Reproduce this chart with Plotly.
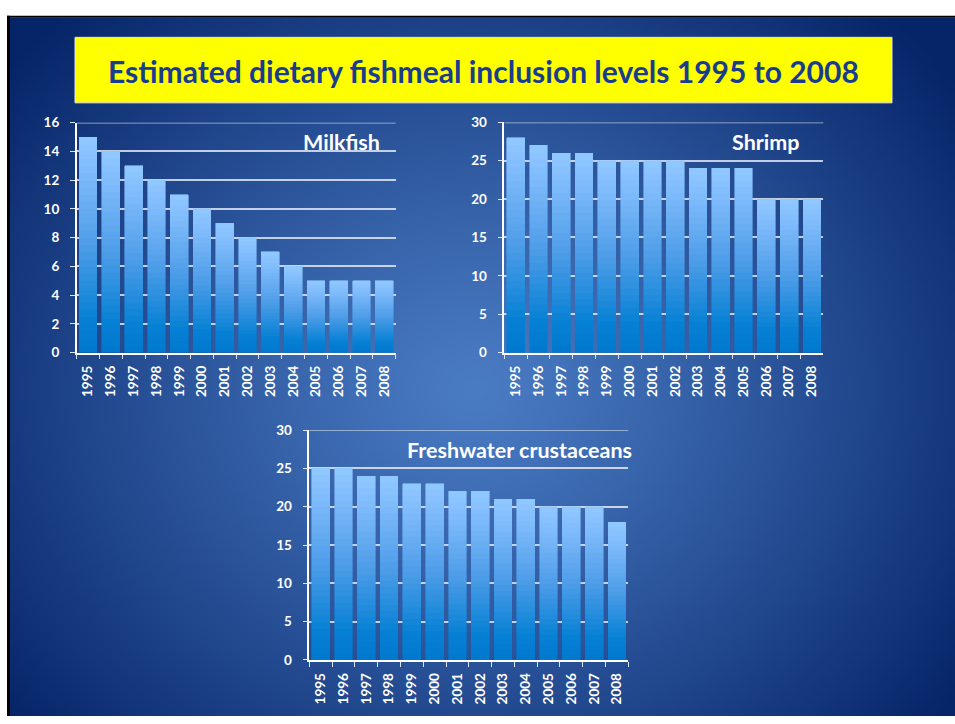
import base64
import struct
import zlib

import numpy as np
import plotly.graph_objects as go

# ---------------------------------------------------------------- data
years = ["1995", "1996", "1997", "1998", "1999", "2000", "2001",
         "2002", "2003", "2004", "2005", "2006", "2007", "2008"]
milkfish = [15, 14, 13, 12, 11, 10, 9, 8, 7, 6, 5, 5, 5, 5]
shrimp = [28, 27, 26, 26, 25, 25, 25, 25, 24, 24, 24, 20, 20, 20]
freshwater = [25, 25, 24, 24, 23, 23, 22, 22, 21, 21, 20, 20, 20, 18]

title_text = "Estimated dietary fishmeal inclusion levels 1995 to 2008"
panel_names = ["Milkfish", "Shrimp", "Freshwater crustaceans"]
panel_values = [milkfish, shrimp, freshwater]
panel_ymax = [16, 30, 30]
panel_dtick = [2, 5, 5]

# ---------------------------------------------------------------- geometry (pixels)
W, H = 955, 724


def fx(px):
    return px / W


def fy(py):
    return 1 - py / H


# plot-area boxes: (left, right, top, bottom)
panel_boxes = [(76.7, 395.7, 117.3, 352.3),
               (504.3, 823.3, 117.0, 352.3),
               (309.3, 628.3, 431.7, 666.7)]
# panel caption: right edge x, centre y
caption_pos = [(382, 137), (801, 137), (634, 452)]

FONT = "Lato"


# ---------------------------------------------------------------- slide background (radial gradient PNG)
def png_data_uri(arr):
    h, w, _ = arr.shape
    raw = b"".join(b"\x00" + arr[r].tobytes() for r in range(h))

    def chunk(tag, data):
        c = struct.pack(">I", len(data)) + tag + data
        return c + struct.pack(">I", zlib.crc32(tag + data) & 0xFFFFFFFF)

    png = (b"\x89PNG\r\n\x1a\n"
           + chunk(b"IHDR", struct.pack(">IIBBBBB", w, h, 8, 2, 0, 0, 0))
           + chunk(b"IDAT", zlib.compress(raw, 9))
           + chunk(b"IEND", b""))
    return "data:image/png;base64," + base64.b64encode(png).decode()


slide_x0, slide_y0 = 10, 10
gw, gh = 236, 178
sx = (W - slide_x0) / gw
sy = (H - slide_y0) / gh
gx, gy = np.meshgrid(np.arange(gw) + 0.5, np.arange(gh) + 0.5)
px_ = slide_x0 + gx * sx
py_ = slide_y0 + gy * sy
d = np.sqrt(((px_ - 475) / 600) ** 2 + ((py_ - 390) / 540) ** 2)
t = np.clip(d, 0, 1) ** 1.15
c_in = np.array([74, 124, 196], dtype=float)
c_out = np.array([6, 36, 104], dtype=float)
bg = (c_in[None, None, :] * (1 - t[..., None]) + c_out[None, None, :] * t[..., None])
bg = np.clip(bg, 0, 255).astype(np.uint8)
bg_uri = png_data_uri(bg)


# ---------------------------------------------------------------- bar colour ramp (bottom -> top)
ramp = [(0.00, (0, 120, 206)),
        (0.15, (6, 128, 212)),
        (0.50, (78, 157, 232)),
        (0.85, (128, 188, 252)),
        (1.00, (145, 200, 255))]


def ramp_color(f):
    for (f0, c0), (f1, c1) in zip(ramp[:-1], ramp[1:]):
        if f <= f1:
            u = (f - f0) / (f1 - f0)
            c = [round(a + (b - a) * u) for a, b in zip(c0, c1)]
            return "rgb({},{},{})".format(*c)
    return "rgb({},{},{})".format(*ramp[-1][1])


N_SEG = 30

fig = go.Figure()

for k, values in enumerate(panel_values):
    s = "" if k == 0 else str(k + 1)
    for i in range(N_SEG):
        col = ramp_color((i + 0.5) / N_SEG)
        fig.add_trace(go.Bar(
            x=years,
            y=[v / N_SEG for v in values],
            marker=dict(color=col, line=dict(color=col, width=0.6)),
            xaxis="x" + s, yaxis="y" + s,
            showlegend=False, hoverinfo="skip",
        ))

tick_font = dict(family=FONT, size=13.5, color="white", weight="bold")

layout_axes = {}
shapes = []
for k, (l, r, top, bot) in enumerate(panel_boxes):
    s = "" if k == 0 else str(k + 1)
    layout_axes["xaxis" + s] = dict(
        domain=[fx(l), fx(r)], anchor="y" + s, type="category",
        showline=True, linecolor="white", linewidth=1.5,
        ticks="outside", tickson="boundaries", ticklen=5, tickwidth=1.2,
        tickcolor="#dfe6f0", tickangle=-90, tickfont=tick_font,
        ticklabelstandoff=6, showgrid=False, fixedrange=True,
    )
    layout_axes["yaxis" + s] = dict(
        domain=[fy(bot), fy(top)], anchor="x" + s,
        range=[0, panel_ymax[k]], dtick=panel_dtick[k],
        showline=True, linecolor="white", linewidth=1.5,
        ticks="outside", ticklen=5, tickwidth=1.2, tickcolor="#dfe6f0",
        tickfont=tick_font, ticklabelstandoff=8,
        showgrid=True, gridcolor="rgba(235,240,248,0.8)", gridwidth=1.5,
        zeroline=False, fixedrange=True,
    )
    # top gridline at the range end
    shapes.append(dict(
        type="line", xref="x" + s + " domain", yref="y" + s,
        x0=0, x1=1, y0=panel_ymax[k], y1=panel_ymax[k],
        line=dict(color="rgba(200,212,228,0.85)", width=1.5), layer="below",
    ))

annotations = [dict(
    text="<b>" + title_text + "</b>", x=fx(483.5), y=fy(64),
    xref="paper", yref="paper", xanchor="center", yanchor="middle",
    showarrow=False, font=dict(family=FONT, size=30, color="#183c8e"),
)]
for name, (xr, yc) in zip(panel_names, caption_pos):
    annotations.append(dict(
        text="<b>" + name + "</b>", x=fx(xr), y=fy(yc),
        xref="paper", yref="paper", xanchor="right", yanchor="middle",
        showarrow=False, font=dict(family=FONT, size=21.5, color="white"),
    ))

shapes += [
    # slide frame
    dict(type="rect", xref="paper", yref="paper", x0=fx(7), x1=fx(10),
         y0=fy(H), y1=fy(8), fillcolor="black", line=dict(width=0), layer="below"),
    dict(type="rect", xref="paper", yref="paper", x0=fx(7), x1=1,
         y0=fy(10), y1=fy(8), fillcolor="black", line=dict(width=0), layer="below"),
    # title banner
    dict(type="rect", xref="paper", yref="paper", x0=fx(75), x1=fx(892),
         y0=fy(97), y1=fy(30), fillcolor="#ffff00",
         line=dict(color="#e6e6d0", width=1), layer="above"),
]

fig.update_layout(
    width=W, height=H, autosize=False,
    margin=dict(l=0, r=0, t=0, b=0, pad=0),
    paper_bgcolor="white", plot_bgcolor="rgba(0,0,0,0)",
    barmode="stack", bargap=0.22,
    showlegend=False,
    annotations=annotations, shapes=shapes,
    images=[dict(source=bg_uri, xref="paper", yref="paper",
                 x=fx(slide_x0), y=fy(slide_y0),
                 sizex=fx(W) - fx(slide_x0), sizey=fy(slide_y0) - fy(H),
                 xanchor="left", yanchor="top", sizing="stretch",
                 layer="below")],
    **layout_axes,
)

fig.write_html(
    "out.html",
    post_script="document.body.style.margin='0';document.body.style.overflow='hidden';",
)
